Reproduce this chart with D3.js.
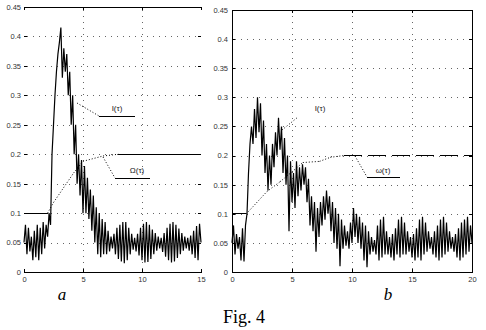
<!DOCTYPE html>
<html><head><meta charset="utf-8">
<script src="https://cdn.jsdelivr.net/npm/d3@7"></script>
<style>
html,body{margin:0;padding:0;background:#fff;}
svg{display:block;}
.tick text{font-family:"Liberation Sans",Arial,sans-serif;font-size:7.5px;fill:#333;}
</style></head>
<body>
<script>
// ---- data ----
const yTicks = [0,0.05,0.1,0.15,0.2,0.25,0.3,0.35,0.4,0.45];
const yTickLabels = ["0","0.05","0.1","0.15","0.2","0.25","0.3","0.35","0.4","0.45"];
const xTicksA = [0,5,10,15];
const xTicksB = [0,5,10,15,20];

// panel a, I(tau): samples every 0.125 from 0 to 15
const stepA = 0.125;
const intensityA = [
 0.05,0.08,0.03,0.075,0.035,0.06,0.02,0.07,
 0.025,0.08,0.02,0.075,0.03,0.085,0.04,0.08,
 0.06,0.1,0.08,0.2,0.25,0.3,0.34,0.37,
 0.39,0.415,0.33,0.38,0.34,0.37,0.3,0.34,
 0.25,0.3,0.2,0.25,0.15,0.2,0.13,0.19,
 0.1,0.18,0.1,0.16,0.09,0.14,0.07,0.13,
 0.05,0.11,0.03,0.1,0.025,0.09,0.03,0.085,
 0.03,0.07,0.035,0.06,0.04,0.065,0.03,0.075,
 0.022,0.08,0.018,0.085,0.015,0.085,0.02,0.075,
 0.03,0.065,0.038,0.058,0.035,0.065,0.028,0.075,
 0.02,0.082,0.016,0.085,0.017,0.08,0.022,0.072,
 0.03,0.066,0.036,0.06,0.04,0.058,0.034,0.066,
 0.026,0.075,0.02,0.082,0.016,0.085,0.018,0.08,
 0.024,0.074,0.03,0.066,0.036,0.06,0.04,0.058,
 0.036,0.062,0.03,0.07,0.024,0.078,0.02,0.082,
 0.05];
// panel a, Omega(tau)
const omegaTA = [0,2,2.5,4.2,5,6.7,8,15];
const omegaA  = [0.1,0.1,0.118,0.168,0.188,0.197,0.2,0.2];

// panel b, I(tau): samples every 0.125 from 0 to 20
const stepB = 0.125;
const intensityB = [
 0.05,0.08,0.03,0.065,0.04,0.06,0.02,0.075,
 0.018,0.08,0.1,0.17,0.22,0.25,0.22,0.28,
 0.23,0.3,0.24,0.29,0.2,0.26,0.17,0.22,
 0.14,0.2,0.15,0.22,0.18,0.24,0.2,0.265,
 0.21,0.25,0.17,0.23,0.15,0.2,0.07,0.19,
 0.12,0.17,0.11,0.19,0.13,0.18,0.14,0.185,
 0.15,0.18,0.12,0.16,0.08,0.13,0.07,0.12,
 0.035,0.11,0.06,0.12,0.08,0.13,0.09,0.14,
 0.1,0.13,0.07,0.12,0.05,0.11,0.04,0.1,
 0.01,0.09,0.04,0.08,0.045,0.07,0.04,0.085,
 0.05,0.11,0.06,0.1,0.05,0.095,0.04,0.085,
 0.02,0.08,0.008,0.07,0.03,0.06,0.035,0.055,
 0.03,0.08,0.02,0.09,0.025,0.095,0.03,0.07,
 0.03,0.06,0.025,0.065,0.02,0.075,0.03,0.09,
 0.025,0.095,0.03,0.085,0.03,0.07,0.035,0.06,
 0.025,0.065,0.02,0.075,0.025,0.09,0.02,0.095,
 0.03,0.085,0.035,0.07,0.04,0.06,0.03,0.07,
 0.025,0.08,0.02,0.09,0.025,0.095,0.03,0.085,
 0.035,0.07,0.04,0.06,0.035,0.065,0.025,0.075,
 0.02,0.085,0.025,0.09,0.03,0.095,0.035,0.08,
 0.05];
// panel b, omega(tau)
const omegaTB = [0,1.2,2.9,4,5,5.9,7.3,8.2,9.3,20];
const omegaB  = [0.1,0.1,0.138,0.155,0.172,0.188,0.19,0.197,0.2,0.2];

const curveLabelsA = ["I(τ)","Ω(τ)"];
const curveLabelsB = ["I(τ)","ω(τ)"];
const panelLetters = ["a","b"];
const figCaption = "Fig. 4";

// ---- drawing ----
const W = 486, H = 330;
const svg = d3.select("body").append("svg").attr("width",W).attr("height",H);

function panel(cfg){
  const x = d3.scaleLinear().domain([0, cfg.xMax]).range([cfg.x0, cfg.x1]);
  const y = d3.scaleLinear().domain([0, 0.45]).range([cfg.y0, cfg.y1]);
  const g = svg.append("g");

  // dotted grid
  const grid = g.append("g").attr("stroke","#000").attr("stroke-width",1)
     .attr("stroke-dasharray","1,5").attr("opacity",0.6).attr("shape-rendering","crispEdges");
  grid.selectAll("line.h").data(yTicks.slice(1,-1)).join("line")
     .attr("x1",cfg.x0+3).attr("x2",cfg.x1-3)
     .attr("y1",d=>Math.round(y(d))+0.5).attr("y2",d=>Math.round(y(d))+0.5);
  grid.selectAll("line.v").data(cfg.xTicks.slice(1,-1)).join("line")
     .attr("y1",cfg.y0-3).attr("y2",cfg.y1+3)
     .attr("x1",d=>Math.round(x(d))+0.5).attr("x2",d=>Math.round(x(d))+0.5);

  // axes
  const left = g.append("g").attr("transform",`translate(${cfg.x0},0)`)
     .call(d3.axisLeft(y).tickValues(yTicks).tickFormat((d,i)=>yTickLabels[i])
       .tickSizeInner(-3).tickSizeOuter(0).tickPadding(cfg.yPad));
  const right = g.append("g").attr("transform",`translate(${cfg.x1},0)`)
     .call(d3.axisRight(y).tickValues(yTicks).tickFormat("").tickSizeInner(-3).tickSizeOuter(0));
  const bottom = g.append("g").attr("transform",`translate(0,${cfg.y0})`)
     .call(d3.axisBottom(x).tickValues(cfg.xTicks).tickFormat(d3.format("d"))
       .tickSizeInner(-3).tickSizeOuter(0).tickPadding(5));
  const top = g.append("g").attr("transform",`translate(0,${cfg.y1})`)
     .call(d3.axisTop(x).tickValues(cfg.xTicks).tickFormat("").tickSizeInner(-3).tickSizeOuter(0));
  [left,right,bottom,top].forEach(a=>{
    a.selectAll("path.domain").attr("stroke","#000").attr("shape-rendering","crispEdges");
    a.selectAll(".tick line").attr("stroke","#000").attr("shape-rendering","crispEdges");
  });
  if(!cfg.sides){
    left.select("path.domain").remove();
    right.select("path.domain").remove();
  }

  // intensity curve
  const line = d3.line().x((d,i)=>x(i*cfg.step)).y(d=>y(d));
  g.append("path").datum(cfg.intensity).attr("d",line)
    .attr("fill","none").attr("stroke","#000").attr("stroke-width",1.2)
    .attr("stroke-linejoin","miter").attr("stroke-miterlimit",2);

  // omega curve: flat parts solid, rising part dotted, final plateau per cfg
  const pts = cfg.omegaT.map((t,i)=>[x(t), y(cfg.omega[i])]);
  const last = cfg.omega[cfg.omega.length-1];
  for(let i=0;i<pts.length-1;i++){
    const flat = cfg.omega[i]===cfg.omega[i+1];
    const plateau = flat && cfg.omega[i]===last;
    let dash = flat ? null : "1,2";
    if(plateau && cfg.plateauDash) dash = cfg.plateauDash;
    g.append("line").attr("x1",pts[i][0]).attr("y1",pts[i][1])
      .attr("x2",pts[i+1][0]).attr("y2",pts[i+1][1])
      .attr("stroke","#000").attr("stroke-width",1)
      .attr("stroke-dasharray",dash)
      .attr("shape-rendering", flat ? "crispEdges" : "auto");
  }

  // curve labels with leaders
  cfg.labels.forEach(L=>{
    g.append("line").attr("x1",L.lx1).attr("y1",L.ly1).attr("x2",L.lx2).attr("y2",L.ly2)
      .attr("stroke","#000").attr("stroke-dasharray","1,2");
    if(L.under){
      g.append("line").attr("x1",L.lx2).attr("x2",L.lx2+L.under)
        .attr("y1",L.ly2+0.5).attr("y2",L.ly2+0.5).attr("stroke","#000")
        .attr("shape-rendering","crispEdges");
    }
    g.append("text").attr("x",L.tx).attr("y",L.ty).text(L.text)
      .attr("font-family","Liberation Sans, Arial, sans-serif").attr("font-size",8)
      .attr("fill","#222").attr("text-anchor","middle");
  });

  // panel letter
  g.append("text").attr("x",cfg.letterX).attr("y",300).text(cfg.letter)
    .attr("font-family","Liberation Serif, Times New Roman, serif")
    .attr("font-style","italic").attr("font-size",17).attr("text-anchor","middle");
}

panel({x0:24,x1:201,y0:272,y1:7,xMax:15,xTicks:xTicksA,yPad:3,sides:false,
  step:stepA,intensity:intensityA,omegaT:omegaTA,omega:omegaA,plateauDash:null,
  labels:[
    {text:curveLabelsA[0],tx:117,ty:111,lx1:77,ly1:103,lx2:99,ly2:116,under:36},
    {text:curveLabelsA[1],tx:137,ty:173,lx1:103,ly1:157,lx2:115,ly2:178,under:35}
  ],
  letter:panelLetters[0],letterX:62});

panel({x0:232,x1:472,y0:272,y1:10,xMax:20,xTicks:xTicksB,yPad:4,sides:true,
  step:stepB,intensity:intensityB,omegaT:omegaTB,omega:omegaB,plateauDash:"18,6",
  labels:[
    {text:curveLabelsB[0],tx:320,ty:111,lx1:282,ly1:130,lx2:298,ly2:117,under:0},
    {text:curveLabelsB[1],tx:383,ty:173,lx1:355,ly1:156,lx2:367,ly2:177,under:33}
  ],
  letter:panelLetters[1],letterX:388});

svg.append("text").attr("x",244).attr("y",323).text(figCaption)
  .attr("font-family","Liberation Serif, Times New Roman, serif")
  .attr("font-size",18).attr("text-anchor","middle");
</script>
</body></html>
